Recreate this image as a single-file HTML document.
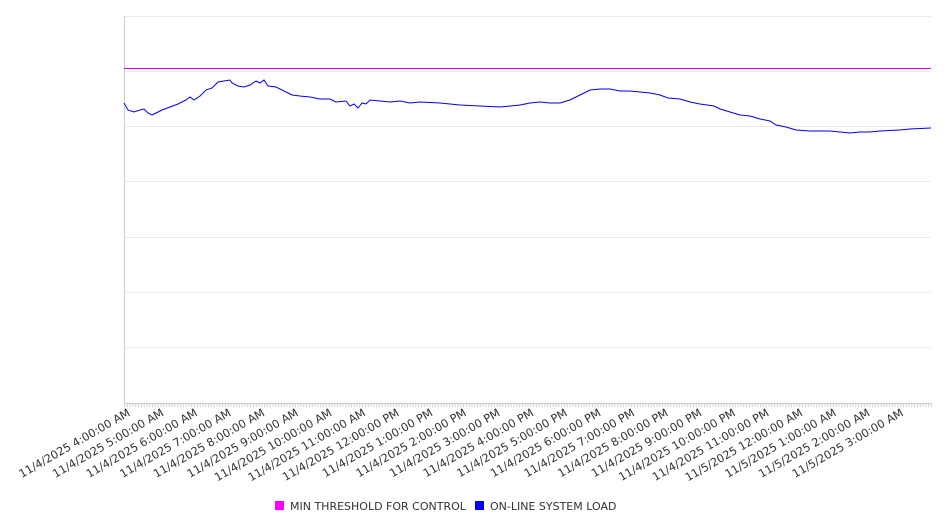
<!DOCTYPE html>
<html><head><style>
body{margin:0;background:#fff;}
svg{display:block;font-family:"DejaVu Sans","Liberation Sans",sans-serif;}
</style></head><body>
<svg width="946" height="526" xmlns="http://www.w3.org/2000/svg">
<g stroke="#ebebeb" stroke-width="1">
<line x1="124" y1="16.5" x2="931" y2="16.5"/>
<line x1="124" y1="71.5" x2="931" y2="71.5"/>
<line x1="124" y1="126.5" x2="931" y2="126.5"/>
<line x1="124" y1="181.5" x2="931" y2="181.5"/>
<line x1="124" y1="237.5" x2="931" y2="237.5"/>
<line x1="124" y1="292.5" x2="931" y2="292.5"/>
<line x1="124" y1="347.5" x2="931" y2="347.5"/>
</g>
<line x1="124.5" y1="16" x2="124.5" y2="404" stroke="#ccc"/>
<line x1="124" y1="403.5" x2="931" y2="403.5" stroke="#ccc"/>
<g id="ticks"></g>
<line x1="124" y1="68.5" x2="931" y2="68.5" stroke="#e000e0" stroke-width="1"/>
<polyline fill="none" stroke="#0000ee" stroke-width="1" points="124,103 128,110 134,112 140,110 144,109 148,113 152,115 156,113 162,110 170,107 178,104 186,100 190,97 194,100 200,96 206,90 212,88 218,82 224,81 230,80 232,83 238,86 244,87 250,85 256,81 260,83 264,80 268,86 276,87 284,91 292,95 300,96 310,97 320,99 330,99 336,102 346,101 350,106 354,104 358,108 362,103 366,104 370,100 380,101 390,102 400,101 410,103 420,102 440,103 460,105 480,106 500,107 520,105 530,103 540,102 550,103 560,103 570,100 580,95 590,90 600,89 610,89 620,91 630,91 650,93 660,95 668,98 680,99 690,102 700,104 714,106 720,109 730,112 740,115 750,116 760,119 770,121 776,125 786,127 796,130 810,131 830,131 850,133 860,132 870,132 880,131 900,130 910,129 931,128"/>
<g id="labels" font-size="11.3" fill="#333"></g>
<rect x="275" y="501" width="9" height="9" fill="#ff00ff"/>
<text x="290" y="510" font-size="11" fill="#333">MIN THRESHOLD FOR CONTROL</text>
<rect x="475" y="501" width="9" height="9" fill="#0000ff"/>
<text x="490" y="510" font-size="11" fill="#333">ON-LINE SYSTEM LOAD</text>
</svg>
<script>
var ns="http://www.w3.org/2000/svg";
var t=document.getElementById("ticks");
for(var i=0;i<=288;i++){var x=124.5+i*807/288;var l=document.createElementNS(ns,"line");
l.setAttribute("x1",x);l.setAttribute("x2",x);l.setAttribute("y1",403);l.setAttribute("y2",407);l.setAttribute("stroke","#ccc");t.appendChild(l);}
var g=document.getElementById("labels");
var hrs=["4:00:00 AM","5:00:00 AM","6:00:00 AM","7:00:00 AM","8:00:00 AM","9:00:00 AM","10:00:00 AM","11:00:00 AM","12:00:00 PM","1:00:00 PM","2:00:00 PM","3:00:00 PM","4:00:00 PM","5:00:00 PM","6:00:00 PM","7:00:00 PM","8:00:00 PM","9:00:00 PM","10:00:00 PM","11:00:00 PM","12:00:00 AM","1:00:00 AM","2:00:00 AM","3:00:00 AM"];
for(var i=0;i<24;i++){var x=131+i*33.62;var s=document.createElementNS(ns,"text");
s.setAttribute("text-anchor","end");s.setAttribute("transform","translate("+x+",415) rotate(-30)");
s.textContent=(i<20?"11/4/2025 ":"11/5/2025 ")+hrs[i];g.appendChild(s);}
</script>
</body></html>
